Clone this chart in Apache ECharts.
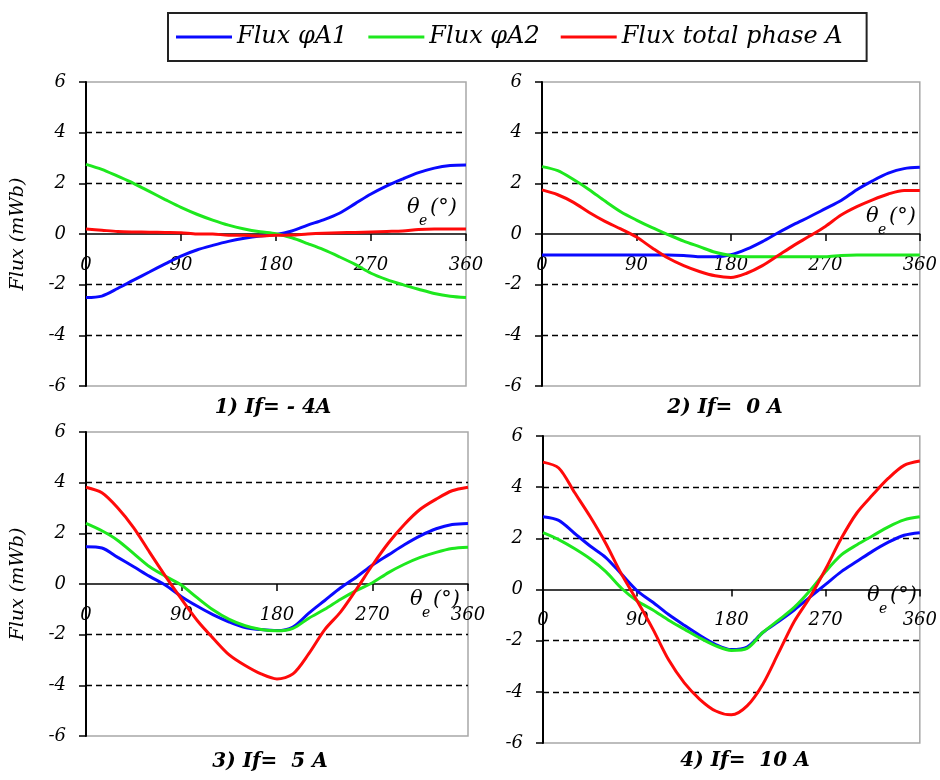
<!DOCTYPE html>
<html>
<head>
<meta charset="utf-8">
<script src="https://cdn.jsdelivr.net/npm/echarts@6/dist/echarts.min.js"></script>
<style>
html,body{margin:0;padding:0;background:#fff;}
#chart{width:940px;height:780px;}
</style>
</head>
<body>
<div id="chart"></div>
<script>
// ---- data (flux in mWb vs electrical angle in degrees) ----
const angles = [0,15,30,45,60,75,90,105,120,135,150,165,180,195,210,225,240,255,270,285,300,315,330,345,360];
const seriesNames = ['Flux \u03c6A1', 'Flux \u03c6A2', 'Flux total phase A'];
const panelTitles = ['1) If= - 4A', '2) If=  0 A', '3) If=  5 A', '4) If=  10 A'];
const xTicks = [0, 90, 180, 270, 360];
const yTicks = [-6, -4, -2, 0, 2, 4, 6];

// Panel 1 : If = -4 A
const p1A1 = [-2.51,-2.45,-2.15,-1.82,-1.5,-1.18,-0.87,-0.63,-0.45,-0.29,-0.17,-0.08,-0.02,0.12,0.35,0.56,0.82,1.2,1.58,1.9,2.17,2.42,2.6,2.7,2.72];
const p1A2 = [2.75,2.55,2.28,2.0,1.68,1.36,1.05,0.78,0.55,0.35,0.2,0.09,0.01,-0.15,-0.38,-0.62,-0.9,-1.2,-1.55,-1.8,-2.0,-2.18,-2.35,-2.46,-2.51];
const p1Tot = [0.2,0.15,0.1,0.08,0.07,0.06,0.05,0.0,0.0,-0.05,-0.05,-0.08,-0.05,-0.04,0.0,0.03,0.05,0.06,0.08,0.1,0.12,0.18,0.2,0.2,0.2];
// Panel 2 : If = 0 A
const p2A1 = [-0.83,-0.83,-0.83,-0.83,-0.83,-0.83,-0.83,-0.83,-0.83,-0.85,-0.9,-0.9,-0.82,-0.6,-0.3,0.05,0.38,0.68,1.0,1.32,1.75,2.1,2.4,2.58,2.63];
const p2A2 = [2.66,2.5,2.15,1.75,1.3,0.88,0.55,0.25,-0.02,-0.28,-0.5,-0.72,-0.85,-0.9,-0.9,-0.9,-0.9,-0.9,-0.9,-0.85,-0.83,-0.83,-0.83,-0.83,-0.83];
const p2Tot = [1.74,1.55,1.25,0.85,0.5,0.2,-0.12,-0.55,-0.95,-1.25,-1.48,-1.65,-1.72,-1.55,-1.25,-0.85,-0.45,-0.08,0.3,0.75,1.08,1.35,1.58,1.72,1.72];
// Panel 3 : If = 5 A
const p3A1 = [1.47,1.42,1.05,0.68,0.3,-0.05,-0.5,-0.88,-1.22,-1.5,-1.72,-1.8,-1.84,-1.7,-1.15,-0.65,-0.15,0.28,0.75,1.15,1.55,1.9,2.18,2.35,2.39];
const p3A2 = [2.39,2.1,1.72,1.2,0.68,0.3,-0.05,-0.55,-1.03,-1.4,-1.65,-1.8,-1.85,-1.75,-1.35,-1.0,-0.6,-0.25,0.05,0.45,0.78,1.05,1.25,1.4,1.45];
const p3Tot = [3.82,3.6,3.0,2.22,1.25,0.3,-0.6,-1.45,-2.15,-2.8,-3.22,-3.55,-3.75,-3.55,-2.75,-1.8,-1.1,-0.2,0.75,1.62,2.35,2.95,3.35,3.68,3.82];
// Panel 4 : If = 10 A
const p4A1 = [2.84,2.7,2.2,1.7,1.25,0.6,-0.05,-0.5,-0.98,-1.4,-1.8,-2.15,-2.35,-2.25,-1.68,-1.25,-0.8,-0.3,0.2,0.7,1.1,1.5,1.85,2.12,2.22];
const p4A2 = [2.22,1.95,1.6,1.2,0.7,0.05,-0.45,-0.8,-1.2,-1.55,-1.9,-2.2,-2.38,-2.3,-1.68,-1.2,-0.7,-0.05,0.7,1.35,1.75,2.1,2.45,2.72,2.84];
const p4Tot = [4.98,4.75,3.8,2.85,1.8,0.6,-0.45,-1.55,-2.75,-3.65,-4.3,-4.75,-4.9,-4.55,-3.7,-2.48,-1.25,-0.3,0.8,2.0,3.0,3.7,4.35,4.85,5.02];

const panelData = [[p1A1,p1A2,p1Tot],[p2A1,p2A2,p2Tot],[p3A1,p3A2,p3Tot],[p4A1,p4A2,p4Tot]];

// ---- layout / style ----
const colors = ['#0a0aff', '#1ee81e', '#ff0a0a'];
const serif = '"DejaVu Serif", "Liberation Serif", serif';
const grids = [
  {left: 86, top: 82, width: 380, height: 304},
  {left: 542, top: 82, width: 381, height: 304},
  {left: 86, top: 432, width: 382, height: 304},
  {left: 543, top: 436, width: 380, height: 307}
];
const titlePos = [[273, 398], [725, 398], [270, 752], [745, 751]];
const thetaPos = [[407, 208], [866, 217], [410, 600], [867, 596]];

const chart = echarts.init(document.getElementById('chart'), null, {renderer: 'canvas'});

const xAxes = [], yAxes = [], series = [], titles = [], graphics = [];
grids.forEach((g, i) => {
  const yMin = yTicks[0], yMax = yTicks[yTicks.length - 1];
  xAxes.push({
    type: 'value', gridIndex: i, min: xTicks[0], max: xTicks[xTicks.length - 1], interval: 90,
    position: 'bottom',
    // place the x axis on the zero line of the y axis
    offset: -g.height * (0 - yMin) / (yMax - yMin),
    axisLine: {onZero: false, lineStyle: {color: '#000', width: 1.5}},
    axisTick: {show: true, inside: false, length: 7, lineStyle: {color: '#000', width: 1.5}},
    axisLabel: {margin: 22, color: '#000', fontFamily: serif, fontStyle: 'italic', fontSize: 18,
      formatter: v => String(v)},
    splitLine: {show: false}
  });
  yAxes.push({
    type: 'value', gridIndex: i, min: yMin, max: yMax, interval: 2,
    name: (i % 2 === 0) ? 'Flux (mWb)' : '',
    nameLocation: 'middle', nameGap: 58,
    nameTextStyle: {color: '#000', fontFamily: serif, fontStyle: 'italic', fontSize: 19},
    axisLine: {show: true, onZero: false, lineStyle: {color: '#000', width: 2}},
    axisTick: {show: true, inside: false, length: 7, lineStyle: {color: '#000', width: 1.5}},
    axisLabel: {margin: 20, color: '#000', fontFamily: serif, fontStyle: 'italic', fontSize: 18},
    splitLine: {show: true, lineStyle: {
      color: ['rgba(0,0,0,0)', '#000', '#000', 'rgba(0,0,0,0)', '#000', '#000', 'rgba(0,0,0,0)'],
      type: [6, 4], width: 1.3}}
  });
  panelData[i].forEach((vals, k) => {
    series.push({
      name: seriesNames[k], type: 'line', xAxisIndex: i, yAxisIndex: i,
      data: angles.map((a, j) => [a, vals[j]]),
      symbol: 'none', smooth: 0.3, z: 3 + (k === 2 ? 1 : 0),
      lineStyle: {color: colors[k], width: 3},
      itemStyle: {color: colors[k]}
    });
  });
  titles.push({
    text: panelTitles[i], left: titlePos[i][0], top: titlePos[i][1], textAlign: 'center', padding: 0,
    textStyle: {color: '#000', fontFamily: serif, fontStyle: 'italic', fontWeight: 'bold', fontSize: 20}
  });
  const tp = thetaPos[i];
  graphics.push({
    type: 'group', x: tp[0], y: tp[1], z: 10,
    children: [
      {type: 'text', x: 0, y: 0, style: {text: '\u03b8', font: 'italic 21px ' + serif, fill: '#000', verticalAlign: 'middle'}},
      {type: 'text', x: 12, y: 13, style: {text: 'e', font: 'italic 14px ' + serif, fill: '#000', verticalAlign: 'middle'}},
      {type: 'text', x: 23, y: 0, style: {text: '(\u00b0)', font: 'italic 21px ' + serif, fill: '#000', verticalAlign: 'middle'}}
    ]
  });
});

chart.setOption({
  backgroundColor: '#fff',
  animation: false,
  color: colors,
  title: titles,
  legend: {
    data: seriesNames.map(n => ({name: n, icon: 'rect'})),
    left: 168, top: 13, orient: 'horizontal',
    itemWidth: 56, itemHeight: 3, itemGap: 21,
    padding: [12, 24, 12, 8],
    borderColor: '#222', borderWidth: 2,
    textStyle: {color: '#000', fontFamily: serif, fontStyle: 'italic', fontSize: 24}
  },
  grid: grids.map(g => Object.assign({show: true, borderColor: '#a8a8a8', borderWidth: 1.5, backgroundColor: 'transparent'}, g)),
  xAxis: xAxes,
  yAxis: yAxes,
  series: series,
  graphic: graphics
});
</script>
</body>
</html>
